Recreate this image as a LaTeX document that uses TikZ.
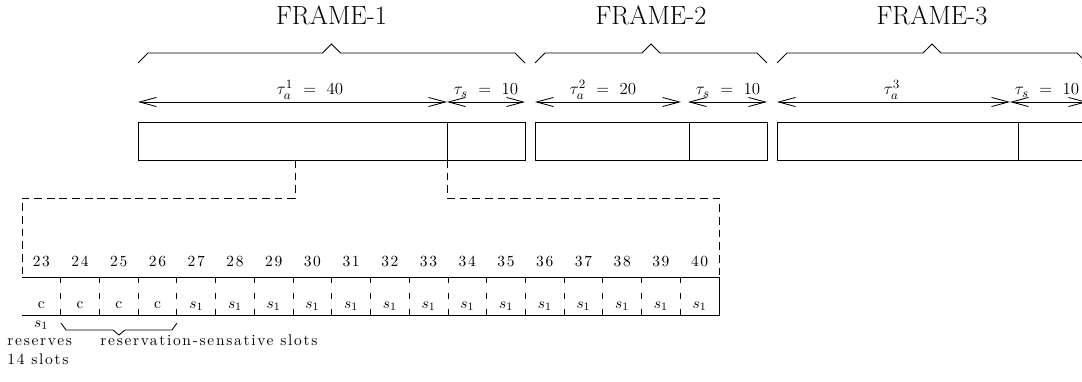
\documentclass[tikz,border=0pt]{standalone}
\usepackage{fontspec}
\usepackage{tikz}
\usetikzlibrary{arrows.meta}

\newfontfamily\slotfam{lmroman10-regular}[Extension=.otf,LetterSpace=11]
\newcommand\slotfont{\slotfam\fontsize{11}{13}\selectfont}

\begin{document}
\begin{tikzpicture}[x=0.025cm,y=-0.025cm,line width=0.6pt,
    every node/.style={inner sep=0pt},
    title/.style={font=\fontsize{18.7}{22}\selectfont,anchor=base},
    dur/.style={font=\fontsize{12.5}{15}\selectfont,anchor=base},
    span/.style={{Straight Barb[length=12pt,width=6.5pt]}-{Straight Barb[length=12pt,width=6.5pt]}},
    cut/.style={dash pattern=on 5.5pt off 3.5pt},
    slotsep/.style={dash pattern=on 4.5pt off 6.75pt},
    slot/.style={font=\slotfont,anchor=base}
  ]
    \useasboundingbox (0,0) rectangle (1082,381);
    \clip (0,0) rectangle (1082,381);

    % frames: box, split line, brace and title
    \foreach \f/\xa/\xd/\xb in {1/138/447/525,2/535/689/767,3/777/1018/1087}{
      \coordinate (f\f-nw) at (\xa,122);
      \coordinate (f\f-se) at (\xb,160);
      \coordinate (f\f-dn) at (\xd,122);
      \coordinate (f\f-ds) at (\xd,160);
      \draw (f\f-nw) rectangle (f\f-se);
      \draw (f\f-dn) -- (f\f-ds);
      \draw (\xa,63) -- ++(10,-10) -- ({(\xa+\xb)/2-9},53) -- ++(9,-9) -- ++(9,9)
        -- (\xb-10,53) -- ++(10,10);
      \node[title] (t\f) at ({(\xa+\xb)/2},25) {FRAME-\f};
    }

    % durations
    \coordinate (a1l) at (138,102);
    \coordinate (a1m) at (447,102);
    \coordinate (a1r) at (525,102);
    \coordinate (a2l) at (535,102);
    \coordinate (a2m) at (681,102);
    \coordinate (a2n) at (688,102);
    \coordinate (a2r) at (767,102);
    \coordinate (a3l) at (777,102);
    \coordinate (a3m) at (1010,102);
    \coordinate (a3r) at (1087,102);
    \draw[span] (a1l) -- (a1m);
    \draw[span] (a1m) -- (a1r);
    \draw[span] (a2l) -- (a2m);
    \draw[span] (a2n) -- (a2r);
    \draw[span] (a3l) -- (a3m);
    \draw[span] (a3m) -- (a3r);
    \node[dur] (d1a) at (310,95) {$\tau_a^1\ =\ 40$};
    \node[dur] (d1s) at (486,95) {$\tau_s\ =\ 10$};
    \node[dur] (d2a) at (603,95) {$\tau_a^2\ =\ 20$};
    \node[dur] (d2s) at (728,95) {$\tau_s\ =\ 10$};
    \node[dur] (d3a) at (892,95) {$\tau_a^3$};
    \node[dur] (d3s) at (1047,95) {$\tau_s\ =\ 10$};

    % slot row
    \coordinate (row-tl) at (22,277);
    \coordinate (row-tr) at (719,277);
    \coordinate (row-br) at (719,315);
    \coordinate (row-bl) at (22,315);
    \draw (row-tl) -- (row-tr) -- (row-br) -- (row-bl);
    \foreach \n [count=\i from 0] in {23,...,40}{
      \node[slot] (num\n) at ({22+(\i+0.5)*38.72},266) {\n};
      \node[slot] (cell\n) at ({22+(\i+0.5)*38.72},308) {\ifnum\n<27 c\else$s_1$\fi};
    }
    \foreach \i in {1,...,17}
      \draw[slotsep] ({22+\i*38.72},277) -- ({22+\i*38.72},315);

    % zoom lines
    \coordinate (cut-a) at (295,160);
    \draw[cut] (cut-a) -- ++(0,38) -| (row-tl);
    \draw[cut] (f1-ds) -- ++(0,38) -| (row-tr);

    % notes
    \draw (61,323) -- ++(5,7) -- (113,330) -- ++(6,5) -- ++(6,-5) -- (172,330) -- ++(5,-7);
    \node[slot] (s1note) at (41,327) {$s_1$};
    \node[slot,anchor=base west] (res1) at (7,345) {reserves};
    \node[slot,anchor=base west] (res2) at (7,364) {14 slots};
    \node[slot,anchor=base west] (sens) at (100,345) {reservation-sensative slots};
  \end{tikzpicture}
\end{document}
